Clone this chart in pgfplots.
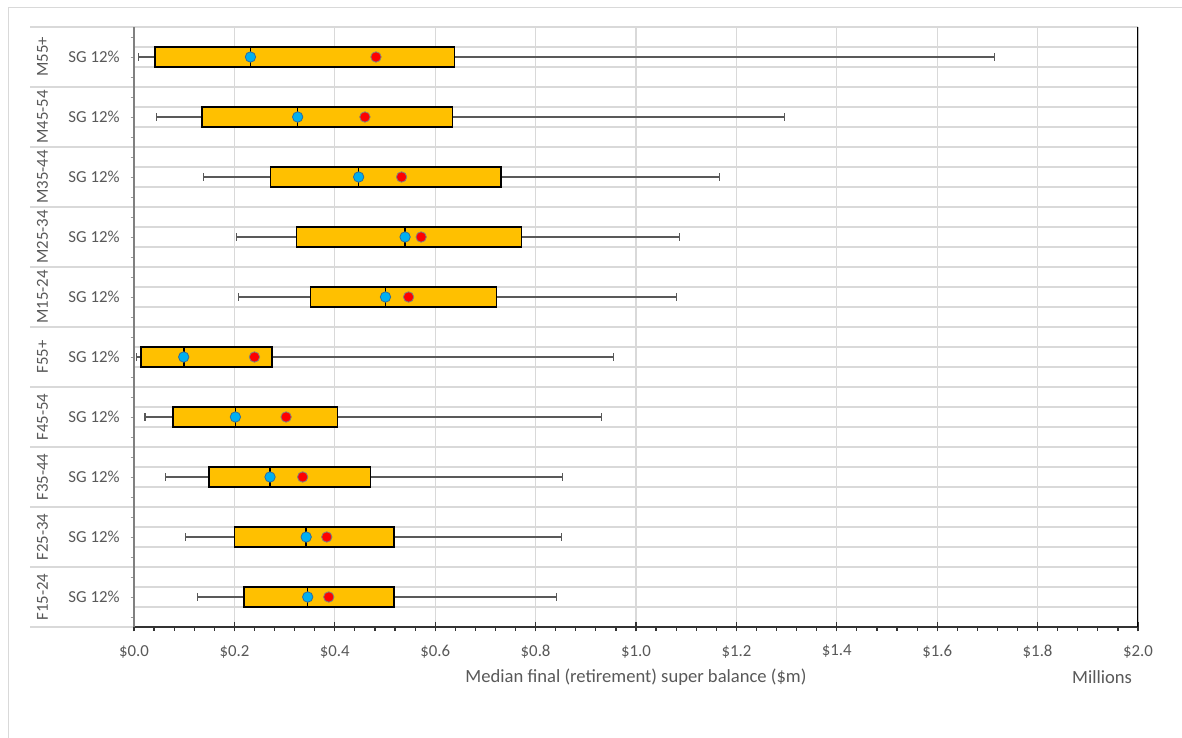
\documentclass[border=0pt]{standalone}
\usepackage{fontspec}
\setmainfont{Carlito}
\usepackage{pgfplots}
\usepgfplotslibrary{statistics}
\pgfplotsset{compat=1.18}
\definecolor{boxfill}{HTML}{FFC000}
\definecolor{medblue}{HTML}{00B0F0}
\definecolor{medborder}{HTML}{2E6E9E}
\definecolor{meanred}{HTML}{FF0000}
\definecolor{txt}{HTML}{595959}
\definecolor{gridc}{HTML}{D9D9D9}
\definecolor{whisk}{HTML}{595959}
\pgfplotsset{
  boxplot/every whisker/.style={draw=whisk, line width=1.1pt},
  boxplot/every median/.style={draw=black, line width=1.6pt},
  boxplot/every box/.style={draw=black, fill=boxfill, line width=1.4pt},
}
\begin{document}
\begin{tikzpicture}[x=1pt,y=1pt]
\useasboundingbox (0,0) rectangle (1182,738);
\fill[white] (0,0) rectangle (1182,738);
\draw[gridc, line width=1pt] (8,-5) -- (8,730) -- (1190,730);
% category separators in label area
\foreach \k in {0,...,10} {
  \draw[gridc, line width=1.3pt] (30,111+60*\k) -- (134,111+60*\k);
}
\begin{axis}[
  at={(134pt,111pt)}, anchor=south west,
  scale only axis, width=1004pt, height=600pt,
  xmin=0, xmax=2, ymin=0, ymax=30,
  axis lines*=left,
  x axis line style={black!80, line width=1.5pt},
  y axis line style={black!50, line width=1.4pt},
  xtick={0,0.2,...,2.01},
  minor x tick num=4,
  xmajorgrids, ymajorgrids,
  grid style={gridc, line width=1.3pt},
  ytick={0,...,30}, yticklabels={},
  minor ytick={0.5,1.5,...,29.5},
  tick align=center,
  major tick length=9pt, minor tick length=4pt,
  x tick style={black!80, line width=1.2pt},
  y tick style={black!40, line width=0.8pt},
  every major y tick/.style={draw=none},
  every minor y tick/.style={xshift=-1.5pt},
  every minor x tick/.style={yshift=-2pt},
  /pgf/number format/assume math mode=true,
  xticklabel={\$\pgfmathprintnumber[fixed,fixed zerofill,precision=1]{\tick}},
  xticklabel style={txt, font=\fontsize{16.8}{18}\selectfont, anchor=center, yshift=-20pt},
  xlabel={Median final (retirement) super balance (\$m)},
  xlabel style={at={(axis description cs:0.5,0)}, anchor=center, yshift=-50pt, txt, font=\fontsize{18.6}{20}\selectfont},
]
% boxplots (bottom F15-24 to top M55+)
\addplot[boxplot prepared={draw position=1.5, lower whisker=0.127, lower quartile=0.219, median=0.346, upper quartile=0.518, upper whisker=0.842, box extend=1, whisker extend=0.4, draw direction=x}] coordinates {};
\addplot[boxplot prepared={draw position=4.5, lower whisker=0.103, lower quartile=0.200, median=0.343, upper quartile=0.518, upper whisker=0.851, box extend=1, whisker extend=0.4, draw direction=x}] coordinates {};
\addplot[boxplot prepared={draw position=7.5, lower whisker=0.063, lower quartile=0.149, median=0.271, upper quartile=0.471, upper whisker=0.853, box extend=1, whisker extend=0.4, draw direction=x}] coordinates {};
\addplot[boxplot prepared={draw position=10.5, lower whisker=0.022, lower quartile=0.078, median=0.202, upper quartile=0.405, upper whisker=0.931, box extend=1, whisker extend=0.4, draw direction=x}] coordinates {};
\addplot[boxplot prepared={draw position=13.5, lower whisker=0.005, lower quartile=0.014, median=0.099, upper quartile=0.275, upper whisker=0.956, box extend=1, whisker extend=0.4, draw direction=x}] coordinates {};
\addplot[boxplot prepared={draw position=16.5, lower whisker=0.208, lower quartile=0.352, median=0.501, upper quartile=0.722, upper whisker=1.080, box extend=1, whisker extend=0.4, draw direction=x}] coordinates {};
\addplot[boxplot prepared={draw position=19.5, lower whisker=0.2045, lower quartile=0.324, median=0.540, upper quartile=0.772, upper whisker=1.086, box extend=1, whisker extend=0.4, draw direction=x}] coordinates {};
\addplot[boxplot prepared={draw position=22.5, lower whisker=0.138, lower quartile=0.272, median=0.4475, upper quartile=0.731, upper whisker=1.166, box extend=1, whisker extend=0.4, draw direction=x}] coordinates {};
\addplot[boxplot prepared={draw position=25.5, lower whisker=0.044, lower quartile=0.1355, median=0.326, upper quartile=0.634, upper whisker=1.296, box extend=1, whisker extend=0.4, draw direction=x}] coordinates {};
\addplot[boxplot prepared={draw position=28.5, lower whisker=0.0086, lower quartile=0.042, median=0.232, upper quartile=0.639, upper whisker=1.714, box extend=1, whisker extend=0.4, draw direction=x}] coordinates {};
% median dots
\addplot[only marks, mark=*, mark size=5.2pt, mark options={fill=medblue, draw=medborder, line width=0.8pt}] coordinates {
(0.346,1.5) (0.343,4.5) (0.271,7.5) (0.202,10.5) (0.099,13.5)
(0.501,16.5) (0.540,19.5) (0.4475,22.5) (0.326,25.5) (0.232,28.5)};
% mean dots
\addplot[only marks, mark=*, mark size=5.2pt, mark options={fill=meanred, draw=black!50, line width=0.8pt}] coordinates {
(0.388,1.5) (0.384,4.5) (0.336,7.5) (0.303,10.5) (0.240,13.5)
(0.547,16.5) (0.572,19.5) (0.533,22.5) (0.460,25.5) (0.482,28.5)};
\draw[black, line width=1.5pt] (rel axis cs:1,0) -- (rel axis cs:1,1);
\end{axis}
\node[txt, font=\fontsize{18.6}{20}\selectfont] at (1102,61) {Millions};
\foreach \lab [count=\i from 0] in {F15-24,F25-34,F35-44,F45-54,F55+,M15-24,M25-34,M35-44,M45-54,M55+} {
  \node[txt, font=\fontsize{16.8}{18}\selectfont, rotate=90] at (42.5,141+60*\i) {\lab};
  \node[txt, font=\fontsize{16.8}{18}\selectfont] at (94,141+60*\i) {SG 12\%};
}
\end{tikzpicture}
\end{document}
